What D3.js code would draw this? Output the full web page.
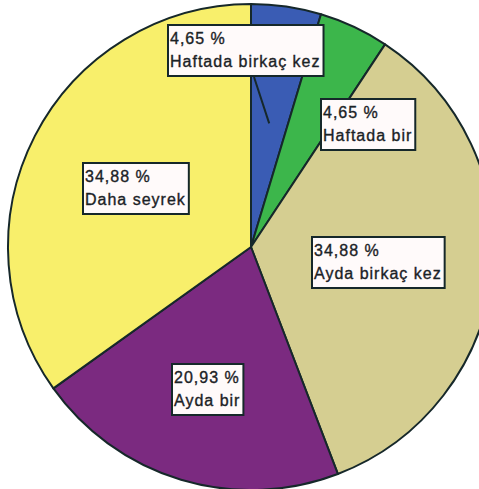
<!DOCTYPE html>
<html>
<head>
<meta charset="utf-8">
<script src="https://cdn.jsdelivr.net/npm/d3@7"></script>
<style>
  html, body { margin: 0; padding: 0; background: #fff; }
  svg { display: block; }
</style>
</head>
<body>
<div id="chart"></div>
<script>
// frequency categories, clockwise from 12 o'clock
const categories = ['Haftada birkaç kez', 'Haftada bir', 'Ayda birkaç kez', 'Ayda bir', 'Daha seyrek'];
const percents = [4.65, 4.65, 34.88, 20.93, 34.88];
const colors = ['#3a5cb4', '#3cb64b', '#d5ce91', '#7b2a80', '#f8ef6b'];

// label box top-left corners (pixels), same order as categories
const labelPos = [[168, 25], [321, 99], [312, 237], [172, 364], [83, 163]];

const width = 479, height = 489;
const cx = 251, cy = 247, radius = 243;

const svg = d3.select('#chart')
    .append('svg')
    .attr('width', width)
    .attr('height', height);

const pie = d3.pie()
    .sort(null)
    .value(d => d);

const arc = d3.arc()
    .innerRadius(0)
    .outerRadius(radius);

const arcs = pie(percents);

const g = svg.append('g')
    .attr('transform', `translate(${cx},${cy})`);

g.selectAll('path')
    .data(arcs)
    .enter()
    .append('path')
    .attr('d', arc)
    .attr('fill', (d, i) => colors[i])
    .attr('stroke', '#16282a')
    .attr('stroke-width', 2)
    .attr('stroke-linejoin', 'round');

// leader line for the thin blue slice
const inner = d3.arc().innerRadius(0).outerRadius(250).centroid(arcs[0]);
svg.append('line')
    .attr('x1', labelPos[0][0] + 86)
    .attr('y1', labelPos[0][1] + 52)
    .attr('x2', cx + inner[0])
    .attr('y2', cy + inner[1])
    .attr('stroke', '#16282a')
    .attr('stroke-width', 2);

const fmt = v => v.toFixed(2).replace('.', ',') + ' %';

const labels = svg.append('g');

categories.forEach((c, i) => {
    const [x, y] = labelPos[i];
    const lg = labels.append('g').attr('transform', `translate(${x},${y})`);
    const rect = lg.append('rect')
        .attr('fill', '#fffafa')
        .attr('stroke', '#16282a')
        .attr('stroke-width', 2);
    const t = lg.append('text')
        .attr('font-family', 'Arial, "Liberation Sans", sans-serif')
        .attr('font-size', 16)
        .attr('letter-spacing', '1px')
        .attr('fill', '#1b2226')
        .attr('stroke', '#1b2226')
        .attr('stroke-width', 0.35);
    t.append('tspan').attr('x', 2).attr('y', 19).text(fmt(percents[i]));
    t.append('tspan').attr('x', 2).attr('y', 42).text(c);
    const bb = t.node().getBBox();
    rect.attr('x', 0).attr('y', 0)
        .attr('width', bb.width + 5)
        .attr('height', 51);
});
</script>
</body>
</html>
